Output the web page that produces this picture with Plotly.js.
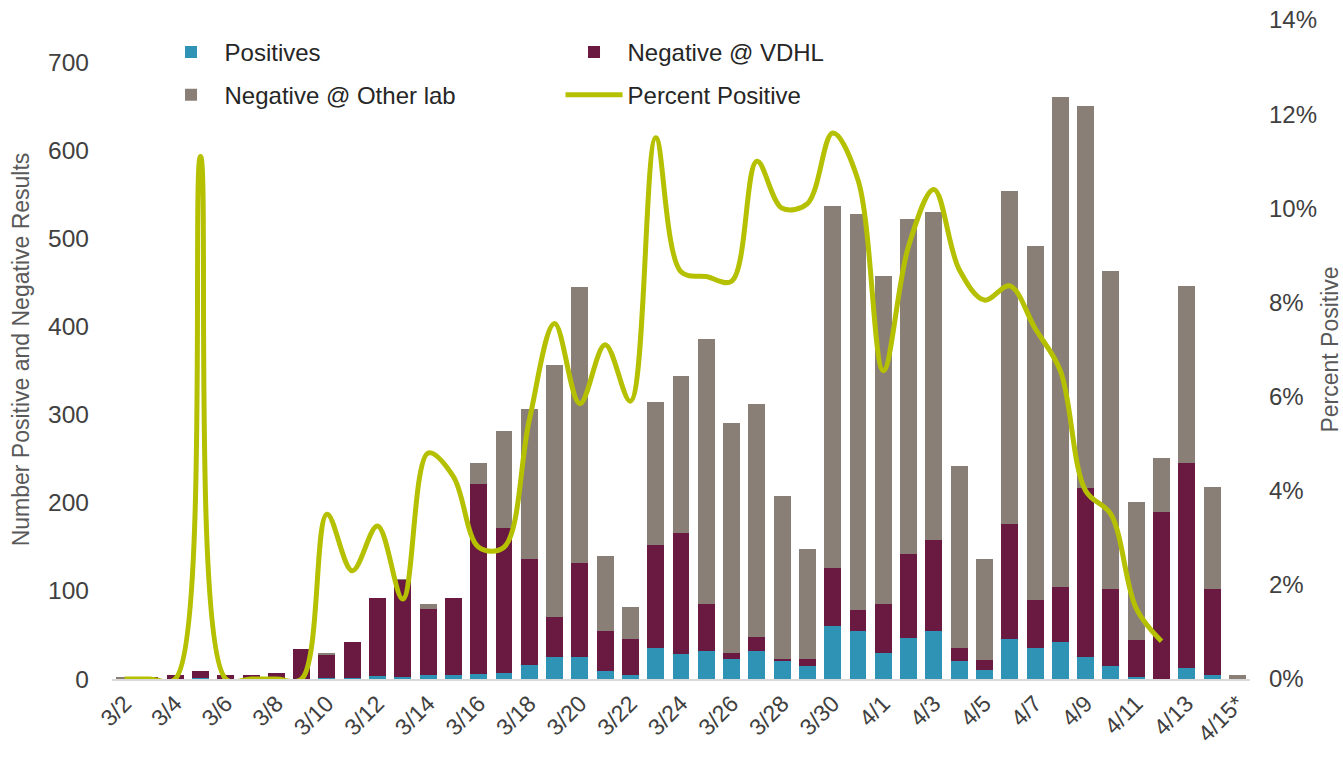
<!DOCTYPE html>
<html>
<head>
<meta charset="utf-8">
<script src="https://cdn.plot.ly/plotly-3.0.1.min.js"></script>
<style>html,body{margin:0;padding:0;background:#fff;}#chart{width:1343px;height:761px;}</style>
</head>
<body>
<div id="chart"></div>
<script>
const dates = ["3/2","3/3","3/4","3/5","3/6","3/7","3/8","3/9","3/10","3/11","3/12","3/13","3/14","3/15","3/16","3/17","3/18","3/19","3/20","3/21","3/22","3/23","3/24","3/25","3/26","3/27","3/28","3/29","3/30","3/31","4/1","4/2","4/3","4/4","4/5","4/6","4/7","4/8","4/9","4/10","4/11","4/12","4/13","4/14","4/15*"];
const positives = [0,0,0,1,0,0,0,0,1,1,3,2,4,4,6,7,16,25,25,9,5,35,28,32,23,32,20,15,60,55,29,46,54,20,10,45,35,42,25,15,2,0,12,4,0];
const negVDHL = [0,2,5,8,5,4,7,34,26,41,89,110,76,88,215,164,120,45,107,46,40,117,138,53,7,16,3,8,66,23,56,96,104,15,12,131,55,62,192,87,42,189,233,98,0];
const negOther = [2,0,0,0,0,0,0,0,2,0,0,2,5,0,24,110,171,286,313,85,37,162,178,301,261,264,185,125,411,450,372,380,372,207,114,378,402,557,433,361,157,62,201,116,5];
const pctPositive = [0,0,0,11.1,0,0,0,0,3.5,2.3,3.25,1.7,4.8,4.3,2.8,2.8,5.5,7.55,5.85,7.1,5.9,11.5,8.65,8.55,8.45,11.0,10.0,10.1,11.6,10.6,6.55,9.2,10.4,8.7,8.05,8.35,7.45,6.55,4.0,3.5,1.5,0.8,null,null,null];
const tickLabels = dates.filter((d, i) => i % 2 === 0);

const FONT = '"Liberation Sans", Arial, sans-serif';
const traces = [
  {type:'bar', name:'Positives', x:dates, y:positives, marker:{color:'#2E93B4'}, legend:'legend'},
  {type:'bar', name:'Negative @ VDHL', x:dates, y:negVDHL, marker:{color:'#6A1940'}, legend:'legend'},
  {type:'bar', name:'Negative @ Other lab', x:dates, y:negOther, marker:{color:'#8A7F76'}, legend:'legend2'},
  {type:'scatter', mode:'lines', name:'Percent Positive', x:dates, y:pctPositive, yaxis:'y2',
   line:{color:'#B4C000', width:5, shape:'spline', smoothing:1}, connectgaps:false, legend:'legend2'}
];
const legendCommon = {orientation:'h', xanchor:'left', yanchor:'middle', x:0.04,
  itemwidth:57, entrywidth:331, entrywidthmode:'pixels', bgcolor:'rgba(0,0,0,0)',
  font:{family:FONT, size:24, color:'#262626'}, traceorder:'normal'};
const layout = {
  width:1343, height:761,
  margin:{l:112, r:93, t:20, b:82},
  paper_bgcolor:'#fff', plot_bgcolor:'#fff',
  barmode:'stack', bargap:0.33,
  font:{family:FONT, color:'#404040'},
  xaxis:{type:'category', tickmode:'array', tickvals:tickLabels, ticktext:tickLabels,
    tickangle:-45, showline:true, linecolor:'#d9d9d9', linewidth:2, ticks:'',
    showgrid:false, zeroline:false, tickfont:{family:FONT, size:23, color:'#404040'}},
  yaxis:{range:[0,748], tickmode:'linear', tick0:0, dtick:100, showgrid:false, zeroline:false,
    showline:false, ticks:'', ticklabelstandoff:22, tickfont:{family:FONT, size:24.5, color:'#404040'},
    title:{text:'Number Positive and Negative Results', font:{family:FONT, size:23, color:'#595959'}, standoff:12}},
  yaxis2:{overlaying:'y', side:'right', range:[0,14], tickmode:'linear', tick0:0, dtick:2,
    ticksuffix:'%', showgrid:false, zeroline:false, showline:false, ticks:'', ticklabelstandoff:18,
    tickfont:{family:FONT, size:24, color:'#404040'},
    title:{text:'Percent Positive', font:{family:FONT, size:23, color:'#595959'}, standoff:8}},
  legend:Object.assign({}, legendCommon, {y:0.951}),
  legend2:Object.assign({}, legendCommon, {y:0.886}),
  showlegend:true
};
Plotly.newPlot('chart', traces, layout, {displayModeBar:false, staticPlot:true});
</script>
</body>
</html>
